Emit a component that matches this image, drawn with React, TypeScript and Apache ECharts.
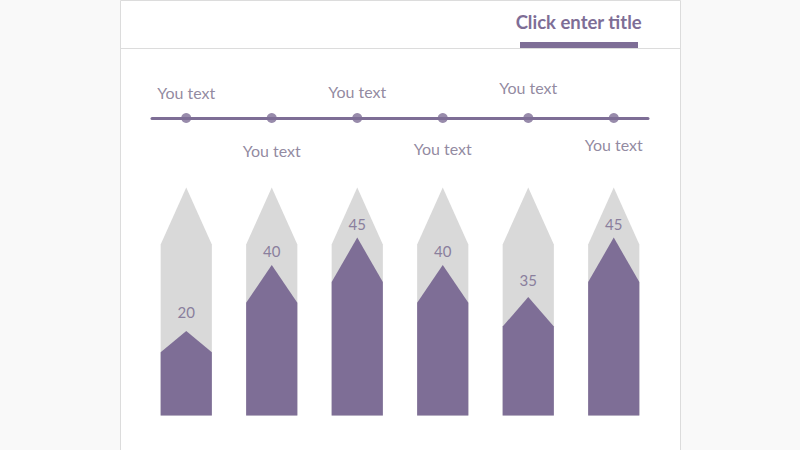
import React, { useEffect, useRef } from "react";
import * as echarts from "echarts";

const categories = ["A", "B", "C", "D", "E", "F"];
const shownValues = [20, 40, 45, 40, 35, 45];
// filled height of each pencil on a 0-100 scale (grey pencil = 100)
const fillHeights = [37, 66, 78, 66, 52, 78];
const trackHeights = [100, 100, 100, 100, 100, 100];
const timelineLabels = ["You text", "You text", "You text", "You text", "You text", "You text"];
const timelinePositions = [0, 1, 2, 3, 4, 5];
const timelineSides = ["top", "bottom", "top", "bottom", "top", "bottom"];
const titleText = "Click enter title";

const PURPLE = "#7e6e96";
const GREY = "#d9d9d9";
const TEXT = "#766b88";
const PENCIL = "path://M0,25 L50,0 L100,25 L100,100 L0,100 Z";

export default function App() {
  const ref = useRef<HTMLDivElement>(null);
  useEffect(() => {
    document.body.style.margin = "0";
    const chart = echarts.init(ref.current!, null, { renderer: "svg" });
    const labelDistances = [13, 19, 14, 17, 18, 13.5];
    const valueLabelDistances = [12, 7, 6, 7, 9, 6];
    chart.setOption({
      animation: false,
      backgroundColor: "#f9f9f9",
      title: {
        text: titleText,
        right: 158,
        top: 12,
        padding: 0,
        textStyle: { fontSize: 18.5, fontWeight: "bold", color: PURPLE, fontFamily: "Lato" },
      },
      graphic: [
        {
          type: "rect",
          z: -10,
          shape: { x: 120.5, y: 0.5, width: 560, height: 470 },
          style: { fill: "#ffffff", stroke: "#dcdcdc", lineWidth: 1 },
        },
        {
          type: "line",
          z: -9,
          shape: { x1: 121, y1: 48.5, x2: 680, y2: 48.5 },
          style: { stroke: "#dcdcdc", lineWidth: 1 },
        },
        {
          type: "rect",
          z: -8,
          shape: { x: 520, y: 42, width: 118, height: 6 },
          style: { fill: PURPLE },
        },
      ],
      grid: [
        { left: 143.5, width: 513, top: 187.5, height: 228 },
        { left: 152, width: 496, top: 60, height: 58 },
      ],
      xAxis: [
        { type: "category", gridIndex: 0, data: categories, show: false },
        {
          type: "value",
          gridIndex: 1,
          min: -0.4,
          max: 5.4,
          axisLine: { show: true, lineStyle: { color: PURPLE, width: 3 } },
          axisTick: { show: false },
          axisLabel: { show: false },
          splitLine: { show: false },
        },
      ],
      yAxis: [
        { type: "value", gridIndex: 0, min: 0, max: 100, show: false },
        { type: "value", gridIndex: 1, min: 0, max: 1, show: false },
      ],
      series: [
        {
          type: "pictorialBar",
          xAxisIndex: 0,
          yAxisIndex: 0,
          symbol: PENCIL,
          symbolSize: ["100%", "100%"],
          barWidth: 51,
          barGap: "-100%",
          z: 1,
          itemStyle: { color: GREY },
          data: trackHeights,
          silent: true,
        },
        {
          type: "pictorialBar",
          xAxisIndex: 0,
          yAxisIndex: 0,
          symbol: PENCIL,
          symbolSize: ["100%", "100%"],
          barWidth: 51,
          barGap: "-100%",
          z: 2,
          itemStyle: { color: PURPLE },
          data: fillHeights.map((v, i) => ({
            value: v,
            label: {
              show: true,
              position: "top",
              distance: valueLabelDistances[i],
              fontSize: 15,
              fontFamily: "Lato",
              color: "#8a7f9d",
              formatter: String(shownValues[i]),
            },
          })),
        },
        {
          type: "scatter",
          xAxisIndex: 1,
          yAxisIndex: 1,
          symbol: "circle",
          symbolSize: 10,
          itemStyle: { color: PURPLE },
          z: 5,
          data: timelinePositions.map((x, i) => ({
            value: [x, 0],
            label: {
              show: true,
              position: timelineSides[i],
              distance: labelDistances[i],
              formatter: timelineLabels[i],
              fontSize: 16,
              fontFamily: "Lato",
              color: TEXT,
            },
          })),
        },
      ],
    });
    return () => chart.dispose();
  }, []);
  return <div ref={ref} style={{ position: "absolute", left: 0, top: 0, width: 800, height: 450 }} />;
}
